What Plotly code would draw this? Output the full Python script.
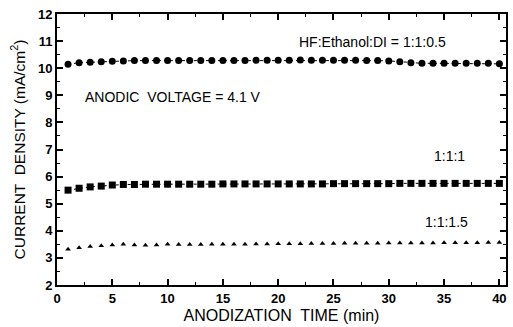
import plotly.graph_objects as go

time_min = list(range(1, 41))
ratio_05 = [10.15, 10.20, 10.22, 10.24, 10.26, 10.27, 10.28, 10.28, 10.28, 10.28,
            10.28, 10.28, 10.28, 10.28, 10.28, 10.28, 10.28, 10.29, 10.29, 10.29,
            10.29, 10.30, 10.29, 10.29, 10.29, 10.29, 10.29, 10.28, 10.28, 10.27,
            10.24, 10.20, 10.18, 10.18, 10.18, 10.18, 10.18, 10.18, 10.18, 10.16]
ratio_10 = [5.50, 5.57, 5.62, 5.65, 5.69, 5.71, 5.71, 5.72, 5.72, 5.72,
            5.72, 5.72, 5.72, 5.72, 5.73, 5.73, 5.73, 5.73, 5.73, 5.73,
            5.73, 5.73, 5.73, 5.73, 5.74, 5.74, 5.74, 5.74, 5.74, 5.74,
            5.75, 5.75, 5.75, 5.75, 5.75, 5.75, 5.75, 5.75, 5.75, 5.75]
ratio_15 = [3.32, 3.37, 3.42, 3.45, 3.48, 3.50, 3.48, 3.47, 3.48, 3.50,
            3.49, 3.49, 3.49, 3.50, 3.50, 3.50, 3.50, 3.51, 3.51, 3.52,
            3.52, 3.52, 3.53, 3.53, 3.53, 3.54, 3.54, 3.54, 3.54, 3.55,
            3.55, 3.55, 3.55, 3.55, 3.56, 3.56, 3.56, 3.56, 3.57, 3.57]

x_ticks = [0, 5, 10, 15, 20, 25, 30, 35, 40]
y_ticks = [2, 3, 4, 5, 6, 7, 8, 9, 10, 11, 12]

font_family = "Liberation Sans, Arial, sans-serif"

fig = go.Figure()
line_style = dict(color="black", width=1, dash="dot")
fig.add_trace(go.Scatter(x=time_min, y=ratio_05, mode="lines+markers",
                         line=line_style,
                         marker=dict(symbol="circle", size=7, color="black")))
fig.add_trace(go.Scatter(x=time_min, y=ratio_10, mode="lines+markers",
                         line=line_style,
                         marker=dict(symbol="square", size=7, color="black")))
fig.add_trace(go.Scatter(x=time_min, y=ratio_15, mode="markers",
                         marker=dict(symbol="triangle-up", size=5, color="black")))

axis_common = dict(
    showgrid=False, zeroline=False, showline=True, linecolor="black", linewidth=2,
    mirror="allticks", ticks="inside", ticklen=6, tickwidth=1.5, tickcolor="black",
    tickfont=dict(family=font_family, size=13, color="black", weight="bold"),
)

fig.update_xaxes(range=[0, 40.6], tickvals=x_ticks,
                 minor=dict(dtick=2.5, ticklen=3, tickwidth=1, tickcolor="black", ticks="inside"),
                 title=dict(text="ANODIZATION  TIME (min)", standoff=5,
                            font=dict(family=font_family, size=16, color="black")),
                 **axis_common)
fig.update_yaxes(range=[2, 12], tickvals=y_ticks,
                 minor=dict(dtick=0.5, ticklen=3, tickwidth=1, tickcolor="black", ticks="inside"),
                 title=dict(text="CURRENT  DENSITY (mA/cm<sup>2</sup>)", standoff=9,
                            font=dict(family=font_family, size=15.5, color="black")),
                 **axis_common)

ann_font = dict(family=font_family, size=14, color="black")
fig.add_annotation(x=28.5, y=10.97, text="HF:Ethanol:DI = 1:1:0.5", showarrow=False, font=ann_font)
fig.add_annotation(x=10.5, y=8.95, text="ANODIC  VOLTAGE = 4.1 V", showarrow=False, font=ann_font)
fig.add_annotation(x=35.5, y=6.75, text="1:1:1", showarrow=False, font=ann_font)
fig.add_annotation(x=35.2, y=4.32, text="1:1:1.5", showarrow=False, font=ann_font)

fig.update_layout(
    width=513, height=327, showlegend=False,
    margin=dict(l=57, r=5, t=14, b=41),
    paper_bgcolor="white", plot_bgcolor="white",
)

fig.write_html("out.html")
